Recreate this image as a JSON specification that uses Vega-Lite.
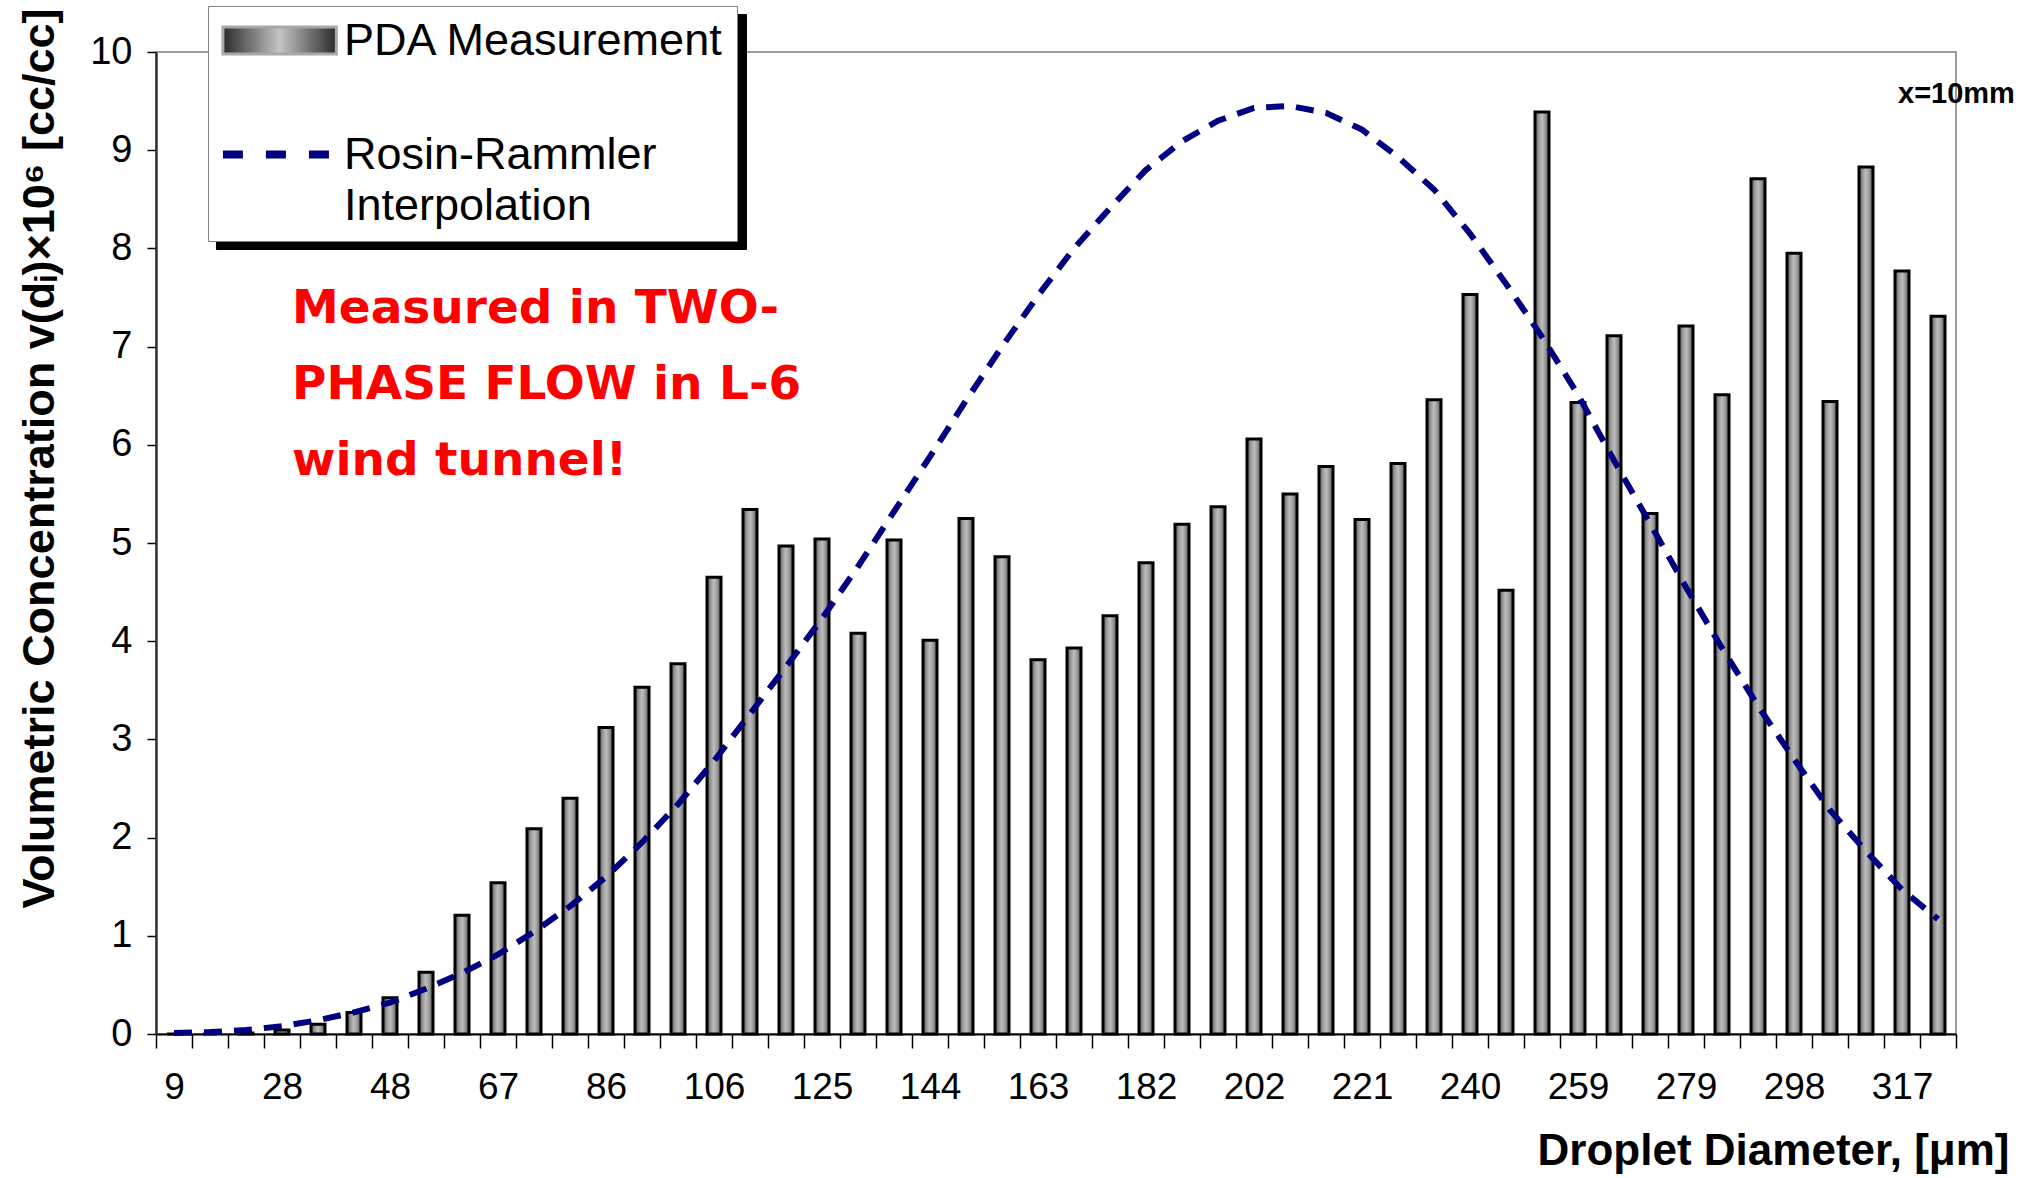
{
  "$schema": "https://vega.github.io/schema/vega-lite/v6.json",
  "width": 1800,
  "height": 982,
  "autosize": "none",
  "padding": {"left": 156, "top": 52, "right": 79, "bottom": 144},
  "background": "white",
  "config": {
    "view": {"stroke": "#7f7f7f", "strokeWidth": 1.5},
    "font": "Liberation Sans"
  },
  "data": {
    "values": [
      {"d": 9, "pda": 0.0, "rr": 0.01},
      {"d": 15, "pda": 0.0, "rr": 0.02},
      {"d": 22, "pda": 0.01, "rr": 0.04},
      {"d": 28, "pda": 0.04, "rr": 0.08},
      {"d": 35, "pda": 0.10, "rr": 0.14},
      {"d": 41, "pda": 0.22, "rr": 0.22},
      {"d": 48, "pda": 0.37, "rr": 0.32},
      {"d": 54, "pda": 0.63, "rr": 0.46},
      {"d": 61, "pda": 1.21, "rr": 0.62},
      {"d": 67, "pda": 1.54, "rr": 0.81},
      {"d": 73, "pda": 2.09, "rr": 1.04},
      {"d": 80, "pda": 2.40, "rr": 1.30},
      {"d": 86, "pda": 3.12, "rr": 1.60},
      {"d": 93, "pda": 3.53, "rr": 1.95},
      {"d": 99, "pda": 3.77, "rr": 2.34},
      {"d": 106, "pda": 4.65, "rr": 2.78},
      {"d": 112, "pda": 5.34, "rr": 3.26},
      {"d": 119, "pda": 4.97, "rr": 3.74},
      {"d": 125, "pda": 5.04, "rr": 4.23},
      {"d": 131, "pda": 4.08, "rr": 4.76},
      {"d": 138, "pda": 5.03, "rr": 5.32},
      {"d": 144, "pda": 4.01, "rr": 5.88},
      {"d": 150, "pda": 5.25, "rr": 6.45},
      {"d": 157, "pda": 4.86, "rr": 7.00},
      {"d": 163, "pda": 3.81, "rr": 7.52},
      {"d": 169, "pda": 3.93, "rr": 8.00},
      {"d": 176, "pda": 4.26, "rr": 8.41},
      {"d": 182, "pda": 4.80, "rr": 8.80},
      {"d": 189, "pda": 5.19, "rr": 9.09},
      {"d": 195, "pda": 5.37, "rr": 9.30},
      {"d": 202, "pda": 6.06, "rr": 9.43},
      {"d": 208, "pda": 5.50, "rr": 9.45},
      {"d": 215, "pda": 5.78, "rr": 9.38},
      {"d": 221, "pda": 5.24, "rr": 9.21},
      {"d": 227, "pda": 5.81, "rr": 8.93},
      {"d": 234, "pda": 6.46, "rr": 8.60},
      {"d": 240, "pda": 7.53, "rr": 8.15},
      {"d": 246, "pda": 4.52, "rr": 7.64},
      {"d": 253, "pda": 9.39, "rr": 7.10},
      {"d": 259, "pda": 6.43, "rr": 6.51},
      {"d": 266, "pda": 7.11, "rr": 5.84},
      {"d": 272, "pda": 5.30, "rr": 5.20},
      {"d": 279, "pda": 7.21, "rr": 4.55},
      {"d": 285, "pda": 6.51, "rr": 3.93},
      {"d": 291, "pda": 8.71, "rr": 3.34},
      {"d": 298, "pda": 7.95, "rr": 2.80},
      {"d": 304, "pda": 6.44, "rr": 2.28},
      {"d": 311, "pda": 8.83, "rr": 1.86},
      {"d": 317, "pda": 7.77, "rr": 1.47},
      {"d": 324, "pda": 7.31, "rr": 1.17}
    ]
  },
  "encoding": {
    "x": {
      "field": "d",
      "type": "ordinal",
      "scale": {"paddingInner": 0, "paddingOuter": 0},
      "title": "Droplet Diameter, [μm]",
      "axis": {
        "labelAngle": 0,
        "labelFont": "Liberation Sans",
        "labelFontSize": 37,
        "labelColor": "black",
        "labelPadding": 21,
        "labelOverlap": false,
        "labelExpr": "indexof([9,28,48,67,86,106,125,144,163,182,202,221,240,259,279,298,317], datum.value) >= 0 ? datum.label : ''",
        "tickBand": "extent",
        "tickSize": 14,
        "tickColor": "black",
        "tickWidth": 1.5,
        "domainColor": "black",
        "domainWidth": 2,
        "grid": false,
        "titleFont": "Liberation Sans",
        "titleFontSize": 44,
        "titleFontWeight": "bold",
        "titleColor": "black",
        "titleAlign": "right",
        "titleBaseline": "middle",
        "titleX": 1853,
        "titleY": 117
      }
    }
  },
  "layer": [
    {
      "mark": {
        "type": "bar",
        "width": 14,
        "stroke": "black",
        "strokeWidth": 3,
        "fill": {
          "gradient": "linear",
          "x1": 0, "y1": 0, "x2": 1, "y2": 0,
          "stops": [
            {"offset": 0, "color": "#5c5c5c"},
            {"offset": 0.3, "color": "#9e9e9e"},
            {"offset": 0.5, "color": "#bebebe"},
            {"offset": 0.7, "color": "#9e9e9e"},
            {"offset": 1, "color": "#5c5c5c"}
          ]
        }
      },
      "encoding": {
        "y": {
          "field": "pda",
          "type": "quantitative",
          "scale": {"domain": [0, 10], "nice": false},
          "title": "Volumetric Concentration v(dᵢ)×10⁶ [cc/cc]",
          "axis": {
            "values": [0, 1, 2, 3, 4, 5, 6, 7, 8, 9, 10],
            "format": "d",
            "labelFont": "Liberation Sans",
            "labelFontSize": 38,
            "labelColor": "black",
            "labelPadding": 15,
            "tickSize": 9,
            "tickColor": "black",
            "tickWidth": 1.5,
            "domainColor": "#333333",
            "domainWidth": 2.5,
            "grid": false,
            "titleFont": "Liberation Sans",
            "titleFontSize": 45,
            "titleFontWeight": "bold",
            "titleColor": "black",
            "titleAngle": -90,
            "titleAlign": "center",
            "titleBaseline": "middle",
            "titleX": -117,
            "titleY": 406
          }
        }
      }
    },
    {
      "mark": {"type": "line", "strokeWidth": 6, "strokeCap": "butt"},
      "encoding": {
        "y": {"field": "rr", "type": "quantitative", "title": "Volumetric Concentration v(dᵢ)×10⁶ [cc/cc]"},
        "color": {
          "datum": "Rosin-Rammler Interpolation",
          "type": "nominal",
          "scale": {
            "domain": ["PDA Measurement", "Rosin-Rammler Interpolation"],
            "range": ["#a8a8a8", "#000080"]
          },
          "legend": {
            "orient": "none",
            "legendX": 52,
            "legendY": -46,
            "zindex": 2,
            "title": null,
            "fillColor": "white",
            "strokeColor": "#808080",
            "padding": 12,
            "labelFont": "Liberation Sans",
            "labelFontSize": 45,
            "labelColor": "black",
            "labelLimit": 1000,
            "labelOffset": 79,
            "symbolSize": 729,
            "rowPadding": 68,
            "labelExpr": "datum.label == 'Rosin-Rammler Interpolation' ? ['Rosin-Rammler', 'Interpolation'] : datum.label",
            "encode": {
              "symbols": {
                "update": {
                  "shape": {"signal": "datum.index == 0 ? 'M-1.45,-1H6.95V1H-1.45Z' : 'M-1.45,0H6.45'"},
                  "fill": {"signal": "datum.index == 0 ? {gradient: 'linear', x1: 0, y1: 0, x2: 1, y2: 0, stops: [{offset: 0, color: '#2a2a2a'}, {offset: 0.5, color: '#c4c4c4'}, {offset: 1, color: '#2a2a2a'}]} : 'transparent'"},
                  "stroke": {"signal": "datum.index == 0 ? 'black' : '#000080'"},
                  "strokeWidth": {"signal": "datum.index == 0 ? 3 : 8"},
                  "strokeDash": {"signal": "datum.index == 0 ? [] : [20, 23]"},
                  "opacity": {"value": 1}
                }
              },
              "labels": {
                "update": {
                  "lineHeight": {"value": 51}
                }
              }
            }
          }
        },
        "strokeDash": {
          "datum": "s2",
          "type": "nominal",
          "scale": {
            "domain": ["s1", "s2"],
            "range": [[1, 0], [18, 12]]
          },
          "legend": {
            "orient": "none",
            "legendX": 60,
            "legendY": -38,
            "zindex": 0,
            "title": null,
            "fillColor": "black",
            "strokeColor": "black",
            "padding": 12,
            "labelFont": "Liberation Sans",
            "labelFontSize": 45,
            "labelColor": "black",
            "labelLimit": 1000,
            "labelOffset": 461,
            "symbolSize": 729,
            "symbolStrokeColor": "black",
            "symbolFillColor": "black",
            "rowPadding": 68,
            "labelExpr": "datum.value == 's2' ? ['\u2003', '\u2003'] : '\u2003\u2003\u2003\u2003\u2003\u2003\u2003\u2003\u2002'",
            "encode": {
              "labels": {
                "update": {
                  "lineHeight": {"value": 51}
                }
              }
            }
          }
        }
      }
    },
    {
      "data": {"values": [{}]},
      "mark": {
        "type": "text",
        "text": ["Measured in TWO-", "PHASE FLOW in L-6", "wind tunnel!"],
        "align": "left",
        "baseline": "alphabetic",
        "font": "DejaVu Sans",
        "fontWeight": "bold",
        "fontSize": 47,
        "lineHeight": 76,
        "color": "#ff0000",
        "dx": -26
      },
      "encoding": {
        "x": {"datum": 35, "type": "ordinal", "title": "Droplet Diameter, [μm]"},
        "y": {"datum": 7.24, "type": "quantitative", "title": "Volumetric Concentration v(dᵢ)×10⁶ [cc/cc]"}
      }
    },
    {
      "data": {"values": [{}]},
      "mark": {
        "type": "text",
        "text": "x=10mm",
        "align": "left",
        "baseline": "alphabetic",
        "font": "Liberation Sans",
        "fontWeight": "bold",
        "fontSize": 29,
        "color": "black",
        "dx": -40
      },
      "encoding": {
        "x": {"datum": 324, "type": "ordinal", "title": "Droplet Diameter, [μm]"},
        "y": {"datum": 9.48, "type": "quantitative", "title": "Volumetric Concentration v(dᵢ)×10⁶ [cc/cc]"}
      }
    }
  ]
}
